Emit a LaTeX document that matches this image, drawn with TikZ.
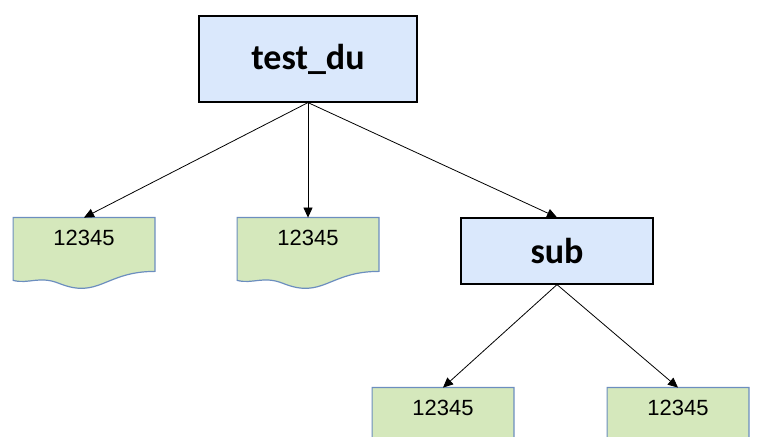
\documentclass[tikz,border=0pt]{standalone}
\usepackage{fontspec}
\setmainfont{Carlito}
\newfontfamily\numfont{Liberation Sans}
\usetikzlibrary{arrows.meta}
\definecolor{dirblue}{RGB}{218,232,252}
\definecolor{filegreen}{RGB}{213,232,188}
\definecolor{fileedge}{RGB}{108,142,191}
\tikzset{
  dir/.style = {draw, fill=dirblue, line width=0.6pt, minimum width=109pt, minimum height=43pt, font=\fontsize{18}{18}\selectfont\bfseries},
  file/.style = {minimum width=70.5pt, minimum height=32pt, font=\numfont\fontsize{11}{11}\selectfont, inner sep=0pt},
  link/.style = {-{Triangle[length=5pt,width=4.5pt]}, line width=0.4pt}
}
% file shape with wavy bottom, drawn round a node
\newcommand{\docshape}[1]{%
  \fill[filegreen, draw=fileedge, line width=0.6pt]
    (#1.north west) -- (#1.north east) -- ([yshift=5.5pt]#1.south east)
    .. controls +(-25pt,0pt) and +(20pt,-8pt) .. ([xshift=23pt,yshift=-0.5pt]#1.south west)
    .. controls +(-10pt,4pt) and +(8pt,-2pt) .. ([yshift=1pt]#1.south west) -- cycle;}
\begin{document}
\begin{tikzpicture}[x=0.5pt,y=-0.5pt]
  \useasboundingbox (0,0) rectangle (759,437);

  \node[dir] (root) at (308,59) {test\_du};
  \node[dir, minimum width=96pt, minimum height=33pt] (sub) at (557,251) {sub};

  \node[file] (f1) at (84,250) {};
  \node[file] (f2) at (308,250) {};
  \node[file] (f3) at (443,420) {};
  \node[file] (f4) at (678,420) {};
  \foreach \f in {f1,f2,f3,f4} {\docshape{\f}}
  \foreach \f in {f1,f2} {\node[font=\numfont\fontsize{11}{11}\selectfont] at ([yshift=6pt]\f) {12345};}
  \foreach \f in {f3,f4} {\node[font=\numfont\fontsize{11}{11}\selectfont] at ([yshift=6pt]\f) {12345};}

  \draw[link] (root.south) -- (f1.north);
  \draw[link] (root.south) -- (f2.north);
  \draw[link] (root.south) -- (sub.north);
  \draw[link] (sub.south) -- (f3.north);
  \draw[link] (sub.south) -- (f4.north);
\end{tikzpicture}
\end{document}
